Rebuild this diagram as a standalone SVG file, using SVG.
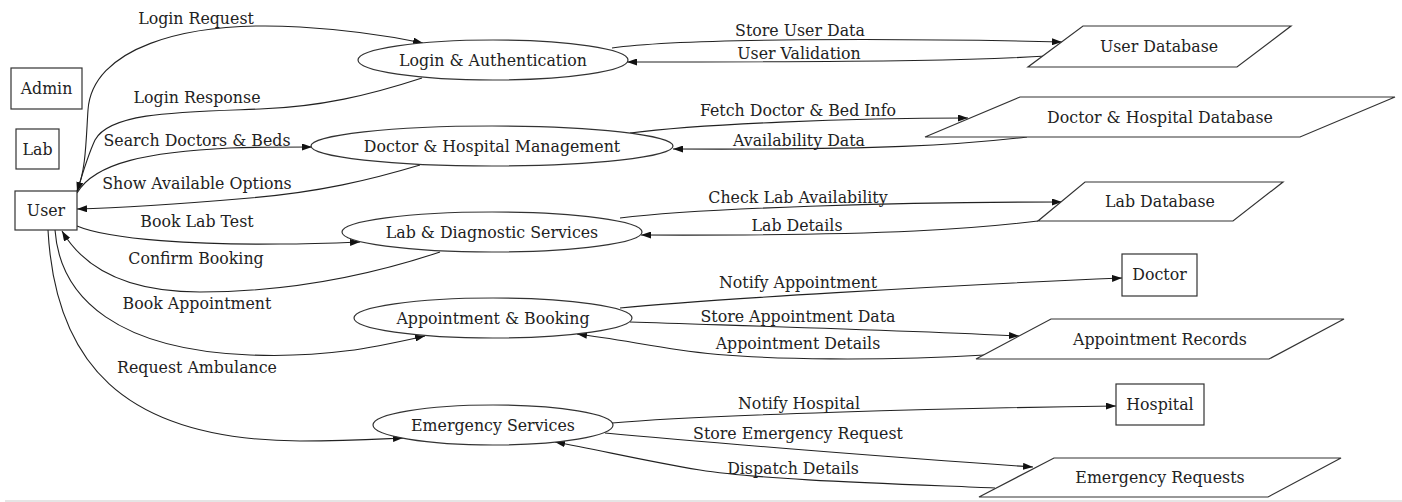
<svg xmlns="http://www.w3.org/2000/svg" width="1402" height="502" viewBox="0 0 1402 502">
<defs>
<marker id="arr" viewBox="0 0 10 7" refX="10" refY="3.5" markerWidth="10" markerHeight="7" markerUnits="userSpaceOnUse" orient="auto">
<path d="M0,0 L10,3.5 L0,7 z" fill="#111"/>
</marker>
<style>
text{font-family:"DejaVu Serif","Liberation Serif",serif;font-size:15.8px;fill:#222;text-anchor:middle}
.n{fill:#fff;stroke:#333;stroke-width:1.2}
.e{fill:none;stroke:#222;stroke-width:1.1;marker-end:url(#arr)}
</style>
</defs>
<rect width="1402" height="502" fill="#fff"/>
<line x1="5" y1="501" x2="1402" y2="501" stroke="#ddd" stroke-width="1.5"/>
<g id="connectors">
<path class="e" d="M77,191 C86,170 86,140 88,110 C92,50 180,20 300,27 C350,30 390,36 423,43"/>
<path class="e" d="M422,78 C370,95 320,107 260,109 C180,112 110,112 95,140 C88,155 82,175 77,192"/>
<path class="e" d="M77,193 C95,162 150,152 230,148 C260,147 290,147 312,147"/>
<path class="e" d="M420,165 C370,180 320,192 250,198 C180,204 120,208 77,209"/>
<path class="e" d="M77,226 C110,240 200,245 280,244 C310,244 335,243 360,242"/>
<path class="e" d="M440,252 C380,272 300,292 200,292 C130,292 85,270 62,231"/>
<path class="e" d="M55,230 C60,300 120,350 250,355 C330,358 380,346 425,336"/>
<path class="e" d="M48,230 C55,360 120,440 300,441 C350,441 380,439 403,438"/>
<path class="e" d="M612,48 C680,38 900,38 1062,42"/>
<path class="e" d="M1047,56 C980,60 900,62 627,62"/>
<path class="e" d="M630,133 C700,124 850,118 968,118"/>
<path class="e" d="M1027,137 C960,145 880,150 673,149"/>
<path class="e" d="M620,218 C700,208 900,202 1062,202"/>
<path class="e" d="M1038,221 C980,228 900,236 641,235"/>
<path class="e" d="M620,308 C700,300 950,285 1122,278"/>
<path class="e" d="M630,322 C750,326 900,330 1019,336"/>
<path class="e" d="M985,355 C900,360 760,362 680,350 C640,344 610,338 577,334"/>
<path class="e" d="M612,423 C700,415 950,408 1116,406"/>
<path class="e" d="M605,433 C700,442 900,458 1033,467"/>
<path class="e" d="M995,488 C900,484 760,480 700,470 C640,460 600,450 555,442"/>
</g>
<g id="edge-labels">
<text x="196" y="23.5">Login Request</text>
<text x="197" y="102.5">Login Response</text>
<text x="197" y="145.5">Search Doctors &amp; Beds</text>
<text x="197" y="188.5">Show Available Options</text>
<text x="197" y="226.5">Book Lab Test</text>
<text x="196" y="263.5">Confirm Booking</text>
<text x="197" y="308.5">Book Appointment</text>
<text x="197" y="372.5">Request Ambulance</text>
<text x="800" y="35.5">Store User Data</text>
<text x="799" y="58.5">User Validation</text>
<text x="798" y="115.5">Fetch Doctor &amp; Bed Info</text>
<text x="799" y="145.5">Availability Data</text>
<text x="798" y="202.5">Check Lab Availability</text>
<text x="797" y="230.5">Lab Details</text>
<text x="798" y="287.5">Notify Appointment</text>
<text x="798" y="321.5">Store Appointment Data</text>
<text x="798" y="348.5">Appointment Details</text>
<text x="799" y="408.5">Notify Hospital</text>
<text x="798" y="438.5">Store Emergency Request</text>
<text x="793" y="473.5">Dispatch Details</text>
</g>
<g id="admin"><rect class="n" x="11" y="68" width="71" height="41"/><text x="46.5" y="93.5">Admin</text></g>
<g id="lab"><rect class="n" x="16" y="129" width="43" height="40"/><text x="37.5" y="154.5">Lab</text></g>
<g id="user"><rect class="n" x="15" y="191" width="62" height="39"/><text x="46" y="215.5">User</text></g>
<g id="login-auth"><ellipse class="n" cx="493" cy="60" rx="135" ry="20"/><text x="493" y="65.5">Login &amp; Authentication</text></g>
<g id="doctor-hospital-mgmt"><ellipse class="n" cx="492" cy="146" rx="181" ry="20"/><text x="492" y="151.5">Doctor &amp; Hospital Management</text></g>
<g id="lab-diag"><ellipse class="n" cx="492" cy="232" rx="150" ry="20"/><text x="492" y="237.5">Lab &amp; Diagnostic Services</text></g>
<g id="appointment"><ellipse class="n" cx="493" cy="318" rx="139" ry="20"/><text x="493" y="323.5">Appointment &amp; Booking</text></g>
<g id="emergency"><ellipse class="n" cx="493" cy="425" rx="120" ry="20"/><text x="493" y="430.5">Emergency Services</text></g>
<g id="user-db"><polygon class="n" points="1083,26 1291,26 1237,67 1028,67"/><text x="1159" y="51.5">User Database</text></g>
<g id="doctor-hospital-db"><polygon class="n" points="1020,97 1395,97 1300,137 925,137"/><text x="1160" y="122.5">Doctor &amp; Hospital Database</text></g>
<g id="lab-db"><polygon class="n" points="1085,182 1283,182 1233,221 1038,221"/><text x="1160" y="206.5">Lab Database</text></g>
<g id="doctor"><rect class="n" x="1122" y="254" width="75" height="42"/><text x="1159.5" y="279.5">Doctor</text></g>
<g id="appointment-records"><polygon class="n" points="1051,319 1344,319 1269,359 976,359"/><text x="1160" y="344.5">Appointment Records</text></g>
<g id="hospital"><rect class="n" x="1116" y="384" width="88" height="41"/><text x="1160" y="409.5">Hospital</text></g>
<g id="emergency-requests"><polygon class="n" points="1054,458 1341,458 1268,497 979,497"/><text x="1160" y="482.5">Emergency Requests</text></g>
</svg>
